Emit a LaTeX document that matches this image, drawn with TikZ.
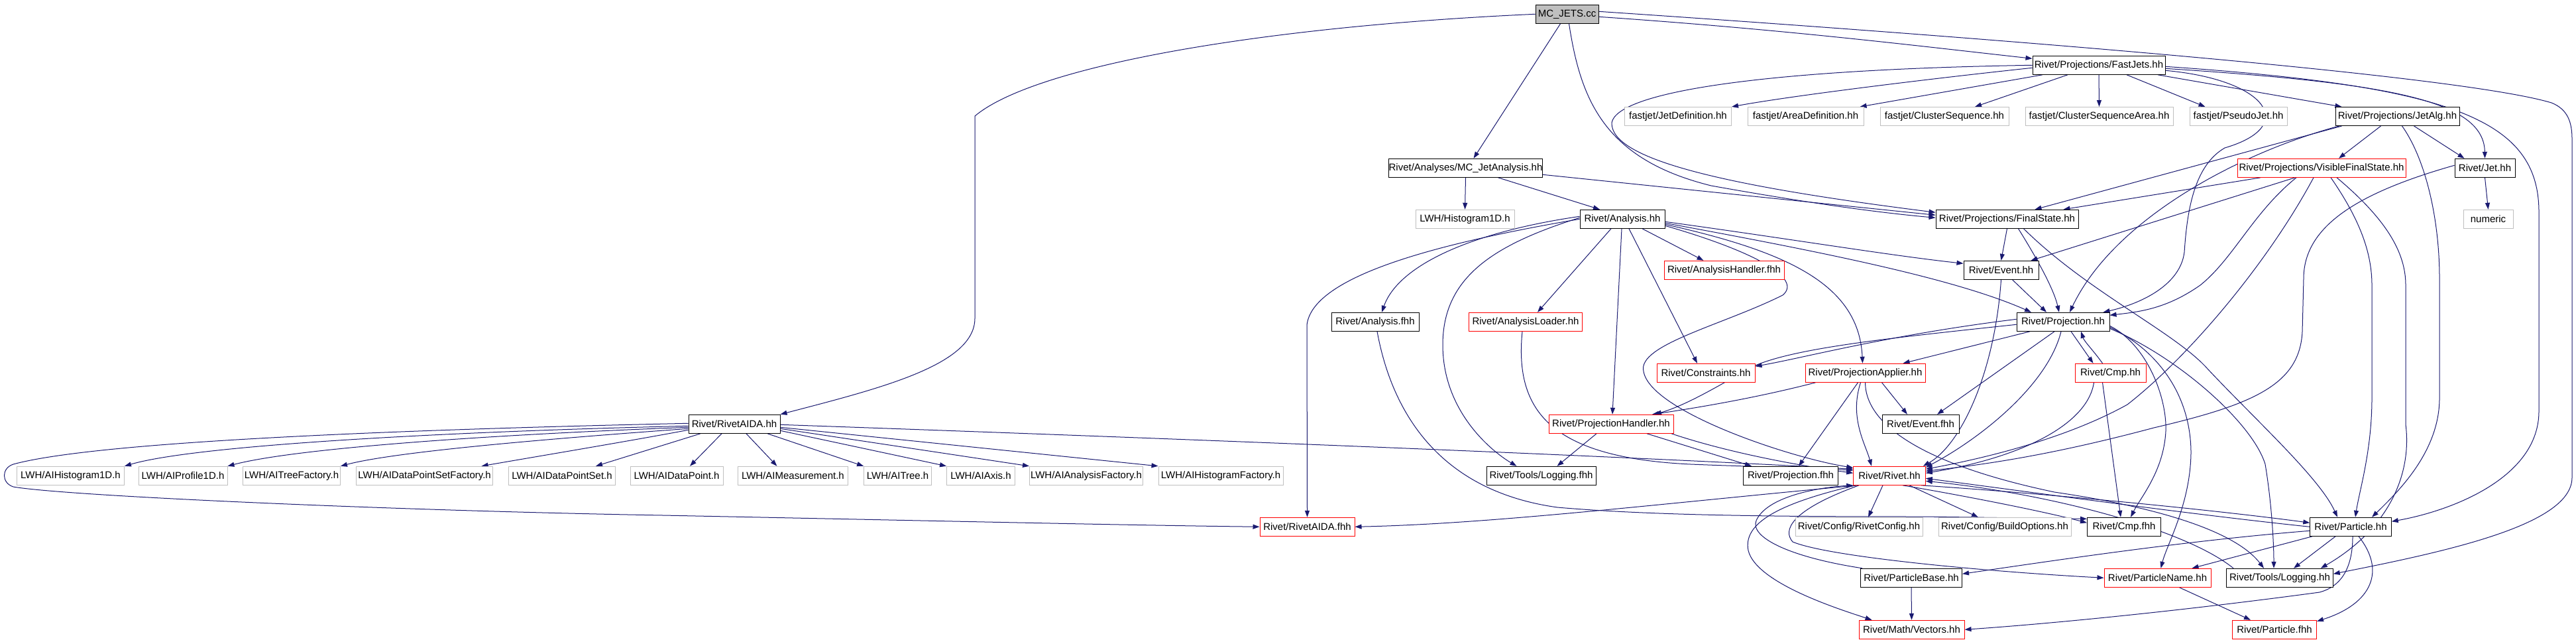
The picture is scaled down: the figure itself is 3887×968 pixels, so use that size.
\documentclass[tikz,border=0pt]{standalone}
\usepackage{fontspec}
\setmainfont{Liberation Sans}
\usetikzlibrary{arrows.meta}
\definecolor{mblue}{RGB}{25,25,112}
\definecolor{gborder}{RGB}{191,191,191}
\definecolor{gfill}{RGB}{191,191,191}
\pgfdeclarelayer{bg}
\pgfdeclarelayer{edges}
\pgfsetlayers{bg,edges,main}
\begin{document}
\begin{tikzpicture}[x=1pt,y=-1pt,
  base/.style={rectangle, fill=white, line width=1pt, minimum height=28pt, inner sep=0pt, font=\fontsize{15}{18}\selectfont},
  nb/.style={base, draw=black},
  nr/.style={base, draw=red},
  ng/.style={base, draw=gborder},
  e/.style={draw=mblue, line width=1pt, -{Triangle[length=10pt,width=7pt]}},
]
\begin{pgfonlayer}{bg}
\fill[white] (0,0) rectangle (3887,968);
\end{pgfonlayer}
\useasboundingbox (0,0) rectangle (3887,968);

% nodes
\node[nb, fill=gfill, minimum width=95pt] (mc) at (2364.5,21.3) {MC\_JETS.cc};
\node[nb, minimum width=200pt] (fj) at (3167,98.3) {Rivet/Projections/FastJets.hh};
\node[ng, minimum width=161pt] (jd) at (2532,175.5) {fastjet/JetDefinition.hh};
\node[ng, minimum width=175pt] (ad) at (2724.5,175.5) {fastjet/AreaDefinition.hh};
\node[ng, minimum width=194pt] (cs) at (2934,175.5) {fastjet/ClusterSequence.hh};
\node[ng, minimum width=223pt] (csa) at (3167.5,175.5) {fastjet/ClusterSequenceArea.hh};
\node[ng, minimum width=147pt] (pj) at (3377.5,175.5) {fastjet/PseudoJet.hh};
\node[nb, minimum width=187pt] (ja) at (3617.5,175.5) {Rivet/Projections/JetAlg.hh};
\node[nb, minimum width=231pt] (mca) at (2211.5,253.3) {Rivet/Analyses/MC\_JetAnalysis.hh};
\node[nr, minimum width=254pt] (vfs) at (3503,253.3) {Rivet/Projections/VisibleFinalState.hh};
\node[nb, minimum width=91pt] (jet) at (3749.5,253.3) {Rivet/Jet.hh};
\node[ng, minimum width=149pt] (h1d) at (2210.5,330.3) {LWH/Histogram1D.h};
\node[nb, minimum width=128pt] (an) at (2448,330.3) {Rivet/Analysis.hh};
\node[nb, minimum width=215pt] (fs) at (3028.5,330.3) {Rivet/Projections/FinalState.hh};
\node[ng, minimum width=75pt] (num) at (3754.5,330.3) {numeric};
\node[nr, minimum width=181pt] (ahf) at (2601.5,407.3) {Rivet/AnalysisHandler.fhh};
\node[nb, minimum width=113pt] (ev) at (3019.5,407.3) {Rivet/Event.hh};
\node[nb, minimum width=132pt] (anf) at (2075,485.3) {Rivet/Analysis.fhh};
\node[nr, minimum width=171pt] (al) at (2302,485.3) {Rivet/AnalysisLoader.hh};
\node[nb, minimum width=140pt] (pr) at (3113,485.3) {Rivet/Projection.hh};
\node[nr, minimum width=148pt] (con) at (2574,562.3) {Rivet/Constraints.hh};
\node[nr, minimum width=181pt] (pa) at (2814.5,562.3) {Rivet/ProjectionApplier.hh};
\node[nr, minimum width=107pt] (cmp) at (3184.5,562.3) {Rivet/Cmp.hh};
\node[nr, minimum width=188pt] (ph) at (2431,639.3) {Rivet/ProjectionHandler.hh};
\node[nb, minimum width=116pt] (evf) at (2898,639.3) {Rivet/Event.fhh};
\node[nb, minimum width=138pt] (ra) at (1108,639.3) {Rivet/RivetAIDA.hh};
\node[ng, minimum width=162pt] (l1) at (106.5,717.3) {LWH/AIHistogram1D.h};
\node[ng, minimum width=134pt] (l2) at (276,717.3) {LWH/AIProfile1D.h};
\node[ng, minimum width=147pt] (l3) at (440,717.3) {LWH/AITreeFactory.h};
\node[ng, minimum width=206pt] (l4) at (640.6,717.3) {LWH/AIDataPointSetFactory.h};
\node[ng, minimum width=161pt] (l5) at (848,717.3) {LWH/AIDataPointSet.h};
\node[ng, minimum width=140pt] (l6) at (1021,717.3) {LWH/AIDataPoint.h};
\node[ng, minimum width=166pt] (l7) at (1196.4,717.3) {LWH/AIMeasurement.h};
\node[ng, minimum width=102pt] (l8) at (1354.6,717.3) {LWH/AITree.h};
\node[ng, minimum width=103pt] (l9) at (1480,717.3) {LWH/AIAxis.h};
\node[ng, minimum width=171pt] (l10) at (1639,717.3) {LWH/AIAnalysisFactory.h};
\node[ng, minimum width=188pt] (l11) at (1842,717.3) {LWH/AIHistogramFactory.h};
\node[nb, minimum width=165pt] (lgf) at (2325.5,717.3) {Rivet/Tools/Logging.fhh};
\node[nb, minimum width=143pt] (prf) at (2702,717.3) {Rivet/Projection.fhh};
\node[nr, minimum width=108.5pt] (rv) at (2851,717.3) {Rivet/Rivet.hh};
\node[nr, minimum width=143pt] (raf) at (1972.5,794.3) {Rivet/RivetAIDA.fhh};
\node[ng, minimum width=192pt] (rc) at (2805,794.3) {Rivet/Config/RivetConfig.hh};
\node[ng, minimum width=200pt] (bo) at (3025,794.3) {Rivet/Config/BuildOptions.hh};
\node[nb, minimum width=111pt] (cmpf) at (3205,794.3) {Rivet/Cmp.fhh};
\node[nb, minimum width=122.5pt] (pt) at (3547,794.3) {Rivet/Particle.hh};
\node[nb, minimum width=153pt] (pb) at (2884,871.3) {Rivet/ParticleBase.hh};
\node[nr, minimum width=161pt] (pn) at (3255.5,871.3) {Rivet/ParticleName.hh};
\node[nb, minimum width=160.5pt] (lg) at (3440,871.3) {Rivet/Tools/Logging.hh};
\node[nr, minimum width=159pt] (vec) at (2884.5,949.3) {Rivet/Math/Vectors.hh};
\node[nr, minimum width=127pt] (ptf) at (3432,949.3) {Rivet/Particle.fhh};

\begin{pgfonlayer}{edges}
% MC_JETS.cc
\draw[e] (mc.west) .. controls (1900,40) and (1560,100) .. (1471,175) -- (1471,480) .. controls (1471,550) and (1330,585) .. (ra.north east);
\draw[e] ([yshift=-4pt]mc.east) .. controls (2700,45) and (2900,70) .. ([yshift=10pt]fj.west);
\draw[e] ([xshift=-10pt]mc.south) -- ([xshift=12pt]mca.north);
\draw[e] ([xshift=3pt]mc.south) .. controls (2385,150) and (2420,240) .. (2582,280) .. controls (2750,310) and (2850,322) .. ([yshift=2pt]fs.west);
\draw[e] ([yshift=4pt]mc.east) .. controls (2900,50) and (3700,110) .. (3850,155) .. controls (3875,165) and (3881,185) .. (3881,210) -- (3881,720) .. controls (3881,790) and (3700,830) .. ([yshift=6pt]lg.east);
% FastJets
\draw[e] ([yshift=-4pt]fj.west) .. controls (2900,120) and (2700,145) .. (jd.north east);
\draw[e] ([xshift=-85pt]fj.south) -- ([xshift=-6pt]ad.north east);
\draw[e] ([xshift=-47pt]fj.south) -- ([xshift=46pt]cs.north);
\draw[e] (fj.south) -- (csa.north);
\draw[e] ([xshift=42pt]fj.south) -- ([xshift=-50pt]pj.north);
\draw[e] ([xshift=89pt]fj.south) -- ([xshift=-84pt]ja.north);
\draw[e] ([yshift=-5pt]fj.east) .. controls (3600,125) and (3748,150) .. (jet.north);
\draw[e] ([yshift=-2pt]fj.east) .. controls (3700,130) and (3831,180) .. (3831,320) -- (3831,620) .. controls (3831,720) and (3700,770) .. ([yshift=8pt]pt.east);
\draw[e] (fj.west) .. controls (2650,105) and (2440,140) .. (2432,185) .. controls (2430,240) and (2600,280) .. ([yshift=10pt]fs.west);
\draw[e] ([yshift=-8pt]fj.east) .. controls (3420,120) and (3470,190) .. (3357,223) .. controls (3310,250) and (3300,320) .. (3296,380) .. controls (3290,430) and (3230,458) .. ([xshift=-10pt]pr.north east);
% JetAlg
\draw[e] ([xshift=-25pt]ja.south) -- ([xshift=26pt]vfs.north);
\draw[e] ([xshift=25pt]ja.south) -- ([xshift=-31pt]jet.north);
\draw[e] ([xshift=-84pt]ja.south) -- ([xshift=42pt]fs.north);
\draw[e] ([xshift=-88pt]ja.south) .. controls (3380,230) and (3190,330) .. ([xshift=10pt]pr.north);
\draw[e] ([xshift=7pt]ja.south) .. controls (3660,240) and (3681,330) .. (3681,420) -- (3681,600) .. controls (3681,680) and (3620,740) .. ([xshift=32pt]pt.north);
% MC_JetAnalysis
\draw[e] (mca.south) -- (h1d.north);
\draw[e] ([xshift=49pt]mca.south) -- ([xshift=-34pt]an.north);
\draw[e] ([yshift=-10pt]mca.east) -- ([yshift=6pt]fs.west);
% VisibleFinalState
\draw[e] ([xshift=-92pt]vfs.south) -- ([xshift=85pt]fs.north);
\draw[e] ([xshift=-40pt]vfs.south) -- ([xshift=45pt]ev.north);
\draw[e] ([xshift=-38pt]vfs.south) .. controls (3400,320) and (3370,390) .. (3320,430) .. controls (3270,465) and (3230,470) .. ([yshift=10pt]pr.east);
\draw[e] ([xshift=-12pt]vfs.south) .. controls (3420,400) and (3300,540) .. (3210,610) .. controls (3120,660) and (3000,690) .. ([yshift=10pt]rv.east);
\draw[e] ([xshift=14pt]vfs.south) .. controls (3560,330) and (3579,380) .. (3579,430) -- (3579,600) .. controls (3579,680) and (3560,740) .. ([xshift=7pt]pt.north);
\draw[e] ([xshift=23pt]vfs.south) .. controls (3600,330) and (3630,380) .. (3630,430) -- (3630,640) .. controls (3640,720) and (3600,800) .. ([xshift=-19pt]lg.north east);
% Jet
\draw[e] (jet.south) -- (num.north);
\draw[e] ([yshift=4pt]jet.west) .. controls (3560,290) and (3476,340) .. (3476,420) -- (3474,500) .. controls (3470,580) and (3400,610) .. (3250,645) .. controls (3100,685) and (3000,700) .. ([yshift=7pt]rv.east);
% Analysis
\draw[e] ([xshift=30pt]an.south) -- ([xshift=-31pt]ahf.north);
\draw[e] ([yshift=-4pt]an.east) .. controls (2700,360) and (2850,385) .. ([yshift=10pt]ev.west);
\draw[e] ([yshift=-6pt]an.east) .. controls (2750,380) and (2950,420) .. ([xshift=-48pt]pr.north);
\draw[e] ([yshift=-8pt]an.east) .. controls (2700,380) and (2805,430) .. ([xshift=-4pt]pa.north);
\draw[e] ([xshift=10pt]an.south) -- ([xshift=-13pt]con.north);
\draw[e] ([xshift=-1pt]an.south) -- ([xshift=2pt]ph.north);
\draw[e] ([xshift=-17pt]an.south) -- ([xshift=18pt]al.north);
\draw[e] ([yshift=4pt]an.west) .. controls (2220,350) and (2110,400) .. ([xshift=10pt]anf.north);
\draw[e] ([yshift=2pt]an.west) .. controls (2250,370) and (2177,420) .. (2177,520) .. controls (2177,620) and (2250,680) .. ([xshift=-37pt]lgf.north);
\draw[e] (an.west) .. controls (2150,370) and (1980,420) .. (1972,490) -- (raf.north);
\draw[e] ([yshift=-10pt]an.east) .. controls (2650,380) and (2720,420) .. (2690,445) .. controls (2600,490) and (2470,520) .. (2480,560) .. controls (2490,620) and (2700,690) .. ([yshift=12pt]rv.west);
% Analysis.fhh, AnalysisLoader
\draw[e] ([xshift=3pt]anf.south) .. controls (2100,620) and (2170,740) .. (2350,765) .. controls (2500,778) and (2700,779) .. (2900,779) -- ([yshift=12pt]cmpf.west);
\draw[e] ([xshift=-5pt]al.south) .. controls (2285,620) and (2340,690) .. (2551,700) .. controls (2650,704) and (2750,706) .. ([yshift=8pt]rv.west);
% Event
\draw[e] ([xshift=17pt]ev.south) -- ([xshift=-25pt]pr.north);
\draw[e] (ev.south) .. controls (3010,560) and (2960,670) .. ([xshift=-4pt]rv.north east);
% FinalState
\draw[e] (fs.south) -- (ev.north);
\draw[e] ([xshift=17pt]fs.south) .. controls (3080,400) and (3100,440) .. ([xshift=-6pt]pr.north);
\draw[e] ([xshift=25pt]fs.south) .. controls (3150,440) and (3280,500) .. (3330,555) .. controls (3400,630) and (3500,720) .. ([xshift=-20pt]pt.north);
% Projection
\draw[e] ([yshift=4pt]pr.west) .. controls (2850,505) and (2720,540) .. ([yshift=10pt]con.east);
\draw[e] ([xshift=-50pt]pr.south) -- ([xshift=57pt]pa.north);
\draw[e] ([yshift=-4pt]pr.west) .. controls (2850,510) and (2700,525) .. (2640,555) .. controls (2580,590) and (2540,612) .. ([xshift=66pt]ph.north);
\draw[e] ([xshift=-13pt]pr.south) -- ([xshift=25pt]evf.north);
\draw[e] ([xshift=12pt]pr.south) -- ([xshift=-26pt]cmp.north);
\draw[e] ([xshift=-3pt]pr.south) .. controls (3090,580) and (2990,660) .. ([yshift=-2pt]rv.north east);
\draw[e] ([yshift=-6pt]pr.east) .. controls (3240,520) and (3270,600) .. (3268,650) .. controls (3265,710) and (3230,750) .. ([xshift=10pt]cmpf.north);
\draw[e] ([yshift=-8pt]pr.east) .. controls (3260,530) and (3306,600) .. (3306,683) .. controls (3305,760) and (3270,820) .. ([xshift=5pt]pn.north);
\draw[e] ([yshift=-10pt]pr.east) .. controls (3290,540) and (3400,640) .. (3418,700) .. controls (3428,760) and (3431,820) .. ([xshift=-9pt]lg.north);
% Cmp
\draw[e] ([xshift=-12pt]cmp.north) .. controls (3160,530) and (3145,515) .. ([xshift=27pt]pr.south);
\draw[e] ([xshift=-12pt]cmp.south) -- ([xshift=-5pt]cmpf.north);
\draw[e] ([xshift=-25pt]cmp.south) .. controls (3150,640) and (3050,690) .. ([yshift=4pt]rv.east);
% ProjectionApplier
\draw[e] ([xshift=-75pt]pa.south) .. controls (2650,600) and (2560,615) .. ([xshift=62pt]ph.north);
\draw[e] ([xshift=-11pt]pa.south) -- ([xshift=12pt]prf.north);
\draw[e] ([xshift=25pt]pa.south) -- ([xshift=-20pt]evf.north);
\draw[e] ([xshift=-7pt]pa.south) .. controls (2790,630) and (2815,670) .. ([xshift=-27pt]rv.north);
\draw[e] (pa.south) .. controls (2815,640) and (2900,700) .. (3100,742) .. controls (3290,770) and (3380,810) .. ([xshift=-24pt]lg.north);
% ProjectionHandler
\draw[e] ([xshift=-22pt]ph.south) -- ([xshift=24pt]lgf.north);
\draw[e] ([xshift=54pt]ph.south) -- ([xshift=-59pt]prf.north);
\draw[e] ([xshift=91pt]ph.south) .. controls (2600,680) and (2700,700) .. ([yshift=4pt]rv.west);
% RivetAIDA
\draw[e] ([yshift=-3pt]ra.west) .. controls (700,650) and (300,670) .. (l1.north east);
\draw[e] ([yshift=-5pt]ra.west) .. controls (750,655) and (450,675) .. (l2.north east);
\draw[e] ([yshift=-7pt]ra.west) .. controls (850,660) and (600,680) .. (l3.north east);
\draw[e] ([yshift=-9pt]ra.west) .. controls (950,665) and (800,690) .. ([xshift=86pt]l4.north);
\draw[e] ([xshift=-51pt]ra.south) -- ([xshift=51pt]l5.north);
\draw[e] ([xshift=-19pt]ra.south) -- ([xshift=20pt]l6.north);
\draw[e] ([xshift=18pt]ra.south) -- ([xshift=-24pt]l7.north);
\draw[e] ([xshift=50pt]ra.south) -- (l8.north west);
\draw[e] ([yshift=-10pt]ra.east) -- (l9.north west);
\draw[e] ([yshift=-7pt]ra.east) -- (l10.north west);
\draw[e] ([yshift=-5pt]ra.east) -- (l11.north west);
\draw[e] ([yshift=-1pt]ra.east) .. controls (1600,655) and (2400,685) .. ([yshift=10pt]rv.west);
\draw[e] ([yshift=1pt]ra.west) .. controls (500,650) and (130,670) .. (20,700) .. controls (2,706) and (2,728) .. (20,734) .. controls (100,748) and (600,770) .. (1000,777) .. controls (1400,785) and (1700,792) .. (raf.west);
% Rivet.hh
\draw[e] ([xshift=-10pt]rv.south) -- ([xshift=14pt]rc.north);
\draw[e] ([xshift=30pt]rv.south) -- ([xshift=-40pt]bo.north);
\draw[e] ([xshift=-48pt]rv.south) .. controls (2500,760) and (2250,790) .. (raf.east);
\draw[e] ([xshift=20pt]rv.south) .. controls (2950,745) and (3080,770) .. ([yshift=6pt]cmpf.west);
\draw[e] ([xshift=-46pt]rv.south) .. controls (2700,770) and (2690,800) .. (2705,817) .. controls (2760,840) and (3000,862) .. (pn.west);
\draw[e] ([xshift=-51pt]rv.south) .. controls (2680,760) and (2630,790) .. (2638,830) .. controls (2650,880) and (2780,920) .. ([xshift=-60pt]vec.north);
\draw[e] ([xshift=48pt]rv.south) .. controls (3100,745) and (3350,770) .. ([yshift=6pt]pt.west);
% ParticleBase
\draw[e] ([xshift=-74pt]pb.north) .. controls (2700,840) and (2640,810) .. (2650,785) .. controls (2665,750) and (2740,735) .. (rv.south west);
\draw[e] (pb.south) -- (vec.north);
% Particle
\draw[e] ([yshift=-6pt]pt.west) .. controls (3300,815) and (3100,845) .. ([yshift=6pt]pb.east);
\draw[e] (pt.west) .. controls (3300,775) and (3050,740) .. ([yshift=-4pt]rv.east);
\draw[e] ([xshift=-58pt]pt.south) -- ([xshift=52pt]pn.north);
\draw[e] ([xshift=-23pt]pt.south) -- ([xshift=21pt]lg.north);
\draw[e] ([xshift=12pt]pt.south) .. controls (3600,860) and (3580,910) .. ([yshift=-2pt]ptf.north east);
\draw[e] ([xshift=3pt]pt.south) .. controls (3550,860) and (3530,885) .. (3500,893) .. controls (3300,920) and (3100,940) .. (vec.east);
% Logging, ParticleName
\draw[e] ([xshift=-70pt]lg.north) .. controls (3300,800) and (3100,745) .. ([yshift=-8pt]rv.east);
\draw[e] ([xshift=33pt]pn.south) -- ([xshift=-36pt]ptf.north);
\end{pgfonlayer}
\end{tikzpicture}
\end{document}
